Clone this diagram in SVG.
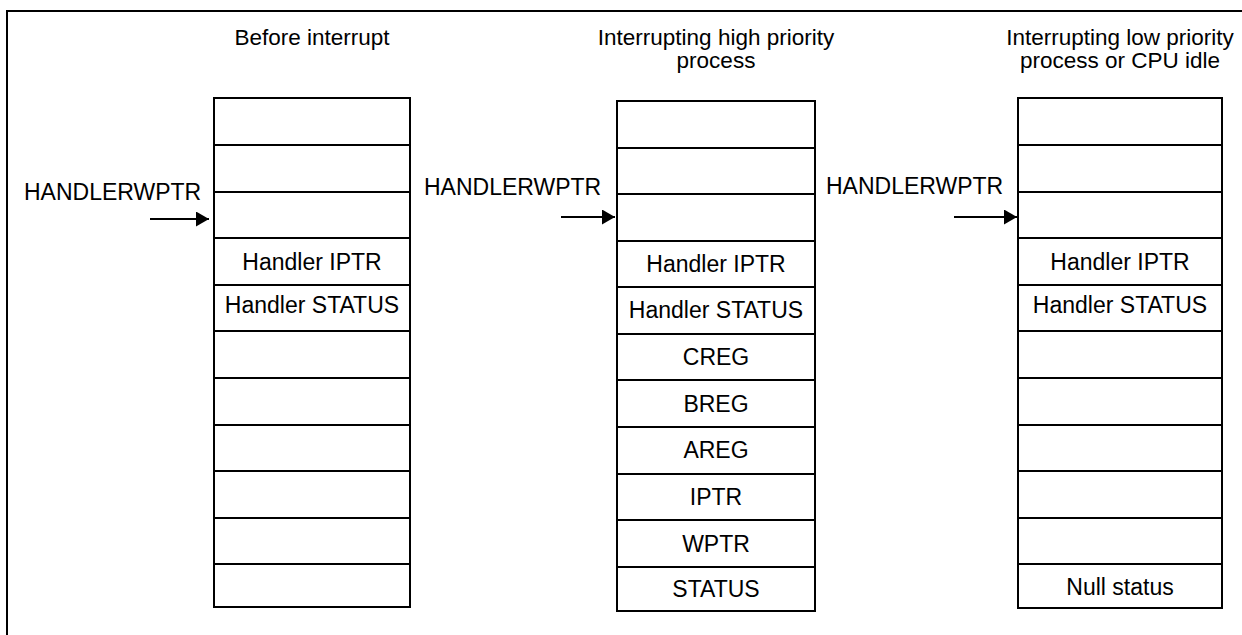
<svg xmlns="http://www.w3.org/2000/svg" width="1242" height="635" viewBox="0 0 1242 635">
<style>
text{font-family:"Liberation Sans",Arial,Helvetica,sans-serif;font-size:23px;fill:#000}
.c{text-anchor:middle}
.t{font-size:22.5px}
.box{fill:#fff;stroke:#000;stroke-width:2}
.row{stroke:#000;stroke-width:2}
.arr{stroke:#000;stroke-width:2;fill:none;marker-end:url(#ah)}
.frame{fill:none;stroke:#000;stroke-width:2}
</style>
<defs>
<marker id="ah" markerUnits="userSpaceOnUse" markerWidth="14" markerHeight="16" refX="13" refY="7.5" orient="auto">
<path d="M0,0 L13,7.5 L0,15 z" fill="#000"/>
</marker>
</defs>
<rect width="1242" height="635" fill="#fff"/>
<path class="frame" d="M7,650 L7,11 L1250,11"/>

<g id="stack1">
<text class="c t" x="312" y="45">Before interrupt</text>
<rect class="box" x="214" y="98" width="196" height="509"/>
<g class="row">
<line x1="214" y1="145" x2="410" y2="145"/>
<line x1="214" y1="192" x2="410" y2="192"/>
<line x1="214" y1="238" x2="410" y2="238"/>
<line x1="214" y1="285" x2="410" y2="285"/>
<line x1="214" y1="331" x2="410" y2="331"/>
<line x1="214" y1="378" x2="410" y2="378"/>
<line x1="214" y1="425" x2="410" y2="425"/>
<line x1="214" y1="471" x2="410" y2="471"/>
<line x1="214" y1="518" x2="410" y2="518"/>
<line x1="214" y1="564" x2="410" y2="564"/>
</g>
<text class="c" x="312" y="270">Handler IPTR</text>
<text class="c" x="312" y="313">Handler STATUS</text>
<text x="24" y="200">HANDLERWPTR</text>
</g>

<g id="stack2">
<text class="c t" x="716" y="45">Interrupting high priority</text>
<text class="c t" x="716" y="68">process</text>
<rect class="box" x="617" y="101" width="198" height="510"/>
<g class="row">
<line x1="617" y1="148" x2="815" y2="148"/>
<line x1="617" y1="194" x2="815" y2="194"/>
<line x1="617" y1="241" x2="815" y2="241"/>
<line x1="617" y1="287" x2="815" y2="287"/>
<line x1="617" y1="334" x2="815" y2="334"/>
<line x1="617" y1="380" x2="815" y2="380"/>
<line x1="617" y1="427" x2="815" y2="427"/>
<line x1="617" y1="474" x2="815" y2="474"/>
<line x1="617" y1="520" x2="815" y2="520"/>
<line x1="617" y1="567" x2="815" y2="567"/>
</g>
<text class="c" x="716" y="272">Handler IPTR</text>
<text class="c" x="716" y="318">Handler STATUS</text>
<text class="c" x="716" y="365">CREG</text>
<text class="c" x="716" y="412">BREG</text>
<text class="c" x="716" y="458">AREG</text>
<text class="c" x="716" y="505">IPTR</text>
<text class="c" x="716" y="552">WPTR</text>
<text class="c" x="716" y="597">STATUS</text>
<text x="424" y="195">HANDLERWPTR</text>
</g>

<g id="stack3">
<text class="c t" x="1120" y="45">Interrupting low priority</text>
<text class="c t" x="1120" y="68">process or CPU idle</text>
<rect class="box" x="1018" y="98" width="204" height="510"/>
<g class="row">
<line x1="1018" y1="145" x2="1222" y2="145"/>
<line x1="1018" y1="192" x2="1222" y2="192"/>
<line x1="1018" y1="238" x2="1222" y2="238"/>
<line x1="1018" y1="285" x2="1222" y2="285"/>
<line x1="1018" y1="331" x2="1222" y2="331"/>
<line x1="1018" y1="378" x2="1222" y2="378"/>
<line x1="1018" y1="425" x2="1222" y2="425"/>
<line x1="1018" y1="471" x2="1222" y2="471"/>
<line x1="1018" y1="518" x2="1222" y2="518"/>
<line x1="1018" y1="564" x2="1222" y2="564"/>
</g>
<text class="c" x="1120" y="270">Handler IPTR</text>
<text class="c" x="1120" y="313">Handler STATUS</text>
<text class="c" x="1120" y="595">Null status</text>
<text x="826" y="194">HANDLERWPTR</text>
</g>

<g id="connectors">
<line class="arr" x1="150" y1="219" x2="209" y2="219"/>
<line class="arr" x1="561" y1="217" x2="615" y2="217"/>
<line class="arr" x1="954" y1="217" x2="1017" y2="217"/>
</g>
</svg>
